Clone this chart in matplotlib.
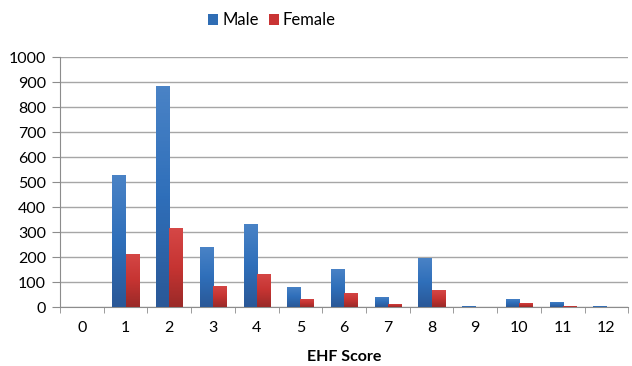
import numpy as np
import matplotlib
matplotlib.use("Agg")
import matplotlib.pyplot as plt
from matplotlib.colors import LinearSegmentedColormap

plt.rcParams['font.family'] = ['Lato', 'DejaVu Sans']

scores = [0, 1, 2, 3, 4, 5, 6, 7, 8, 9, 10, 11, 12]
male = [0, 529, 885, 241, 333, 81, 153, 41, 197, 4, 34, 21, 3]
female = [0, 213, 316, 85, 133, 33, 57, 14, 68, 2, 17, 3, 2]

fig = plt.figure(figsize=(6.32, 3.66), dpi=100)
ax = fig.add_axes([0.095, 0.161, 0.899, 0.683])

x = np.arange(len(scores))
w = 0.3
bm = ax.bar(x - w / 2, male, w, color='#2f6db4', label='Male', zorder=3)
bf = ax.bar(x + w / 2, female, w, color='#c93434', label='Female', zorder=3)

# excel-ish gradient fill on each bar
grad = np.linspace(0, 1, 64).reshape(-1, 1)
cm_m = LinearSegmentedColormap.from_list('m', ['#2a5897', '#2f6fba', '#4a83c6'])
cm_f = LinearSegmentedColormap.from_list('f', ['#9a2a28', '#c63432', '#d54746'])
for bars, cm in ((bm, cm_m), (bf, cm_f)):
    for b in bars:
        h = b.get_height()
        if h <= 0:
            continue
        x0 = b.get_x()
        im = ax.imshow(grad, cmap=cm, aspect='auto', origin='lower',
                       extent=(x0, x0 + b.get_width(), 0, h), zorder=4)
        im.set_clip_path(b)

ax.set_xlim(-0.5, len(scores) - 0.5)
ax.set_ylim(0, 1000)
ax.set_yticks(range(0, 1001, 100))
ax.grid(axis='y', color='#a6a6a6', linewidth=1, zorder=0)

ax.set_xticks(x)
ax.set_xticklabels([str(s) for s in scores])
ax.set_xticks(np.arange(-0.5, len(scores), 1), minor=True)
ax.tick_params(axis='x', which='major', length=0, pad=10, labelsize=11.5)
ax.tick_params(axis='x', which='minor', length=4.5, color='#8c8c8c')
ax.tick_params(axis='y', length=6, color='#8c8c8c', labelsize=11.5, pad=4)

for s in ['top', 'right']:
    ax.spines[s].set_visible(False)
for s in ['left', 'bottom']:
    ax.spines[s].set_color('#8c8c8c')

ax.set_xlabel('EHF Score', fontweight='bold', fontsize=11.5, labelpad=11)

fig.legend(loc='center', bbox_to_anchor=(0.43, 0.945), ncol=2, frameon=False,
           fontsize=12, handlelength=0.6, handleheight=0.6, handletextpad=0.25,
           columnspacing=0.6)

fig.savefig('out.png', dpi=100)
